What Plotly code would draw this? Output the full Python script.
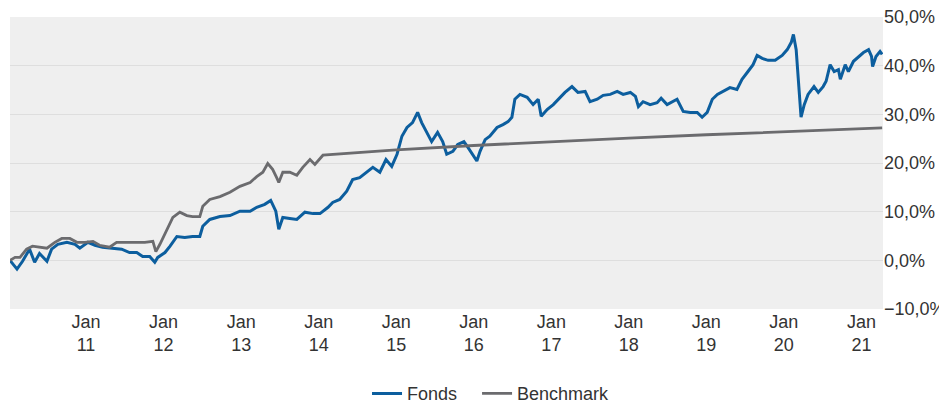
import plotly.graph_objects as go

# Fonds (cumulative performance in %)
fonds_dates = [
    "2010-01-08", "2010-02-10", "2010-03-08", "2010-04-10", "2010-05-04", "2010-05-27",
    "2010-07-01", "2010-07-23", "2010-08-21", "2010-10-03", "2010-11-10", "2010-12-03",
    "2011-01-10", "2011-02-12", "2011-03-20", "2011-05-15", "2011-06-18", "2011-07-25",
    "2011-08-28", "2011-09-25", "2011-10-28", "2011-11-21", "2011-12-05", "2012-01-08",
    "2012-02-01", "2012-03-04", "2012-04-10", "2012-05-17", "2012-06-20", "2012-07-04",
    "2012-08-06", "2012-09-23", "2012-11-09", "2012-12-26", "2013-02-12", "2013-03-15",
    "2013-04-22", "2013-05-20", "2013-06-13", "2013-06-27", "2013-07-16", "2013-08-18",
    "2013-09-20", "2013-10-28", "2013-12-05", "2014-01-07", "2014-02-14", "2014-03-08",
    "2014-04-10", "2014-05-13", "2014-06-10", "2014-07-13", "2014-08-15", "2014-09-13",
    "2014-10-16", "2014-11-14", "2014-12-11", "2015-01-05", "2015-01-28", "2015-02-21",
    "2015-03-19", "2015-04-12", "2015-05-01", "2015-05-24", "2015-06-17", "2015-07-15",
    "2015-08-08", "2015-08-27", "2015-09-25", "2015-10-18", "2015-11-16", "2015-12-05",
    "2015-12-28", "2016-01-16", "2016-01-31", "2016-02-24", "2016-03-17", "2016-04-20",
    "2016-05-18", "2016-06-11", "2016-06-29", "2016-07-13", "2016-08-06", "2016-09-09",
    "2016-10-07", "2016-10-31", "2016-11-14", "2016-12-12", "2017-01-10", "2017-02-12",
    "2017-03-06", "2017-04-08", "2017-05-06", "2017-06-09", "2017-07-02", "2017-08-05",
    "2017-09-02", "2017-10-05", "2017-11-07", "2017-12-05", "2018-01-08", "2018-02-01",
    "2018-02-15", "2018-03-09", "2018-04-11", "2018-05-14", "2018-06-02", "2018-06-30",
    "2018-07-28", "2018-08-16", "2018-09-14", "2018-10-17", "2018-11-19", "2018-12-12",
    "2019-01-05", "2019-01-29", "2019-02-22", "2019-03-20", "2019-04-22", "2019-05-25",
    "2019-06-18", "2019-07-16", "2019-08-09", "2019-08-28", "2019-09-21", "2019-10-19",
    "2019-11-21", "2019-12-24", "2020-01-17", "2020-02-05", "2020-02-15", "2020-02-28",
    "2020-03-08", "2020-03-17", "2020-03-22", "2020-04-06", "2020-04-24", "2020-05-22",
    "2020-06-11", "2020-07-04", "2020-07-18", "2020-08-06", "2020-08-25", "2020-09-14",
    "2020-09-23", "2020-10-16", "2020-10-31", "2020-11-24", "2020-12-17", "2021-01-10",
    "2021-02-03", "2021-02-17", "2021-02-22", "2021-03-10", "2021-03-29", "2021-04-08",
]
fonds_values = [
    0.0, -1.8, -0.2, 2.3, -0.4, 1.4,
    -0.2, 2.3, 3.3, 3.7, 3.3, 2.5,
    3.7, 3.1, 2.7, 2.5, 2.3, 1.6,
    1.6, 0.8, 0.8, -0.4, 0.6, 1.6,
    2.9, 4.9, 4.7, 4.9, 4.9, 7.0,
    8.4, 9.0, 9.2, 10.1, 10.1, 10.9,
    11.5, 12.3, 10.1, 6.4, 8.8, 8.6,
    8.4, 9.9, 9.6, 9.6, 10.9, 11.9,
    12.5, 14.2, 16.6, 17.0, 18.1, 19.1,
    18.1, 20.7, 19.3, 21.8, 25.5, 27.3,
    28.3, 30.4, 28.3, 26.5, 24.4, 26.3,
    24.4, 21.8, 22.4, 23.8, 24.4, 23.2,
    21.5, 20.4, 22.4, 24.8, 25.5, 27.3,
    27.9, 28.5, 29.4, 33.1, 34.1, 33.5,
    32.0, 33.1, 29.6, 31.0, 32.0, 33.5,
    34.5, 35.7, 34.5, 34.7, 32.6, 33.1,
    33.9, 34.1, 34.7, 34.1, 34.5, 33.7,
    31.6, 32.6, 32.0, 32.4, 33.3, 32.0,
    32.6, 33.1, 30.6, 30.4, 30.4, 29.4,
    30.4, 33.1, 34.1, 34.7, 35.5, 35.1,
    37.2, 38.8, 40.2, 42.1, 41.5, 41.1,
    41.1, 42.1, 43.3, 44.8, 46.4, 43.3,
    37.8, 31.6, 29.4, 32.0, 34.1, 35.7,
    34.5, 35.7, 36.8, 40.2, 38.8, 39.2,
    37.2, 40.2, 38.8, 40.9, 41.7, 42.7,
    43.3, 41.9, 39.8, 41.9, 42.9, 42.3,
]

# Benchmark (cumulative performance in %)
bench_dates = [
    "2010-01-08", "2010-02-01", "2010-02-24", "2010-03-27", "2010-04-24", "2010-05-27",
    "2010-07-01", "2010-08-07", "2010-09-09", "2010-10-17", "2010-11-19", "2010-12-27",
    "2011-02-03", "2011-03-06", "2011-04-22", "2011-05-25", "2011-07-02", "2011-08-18",
    "2011-10-05", "2011-11-12", "2011-11-26", "2011-12-15", "2012-01-17", "2012-02-14",
    "2012-03-18", "2012-04-20", "2012-05-17", "2012-06-20", "2012-07-04", "2012-08-06",
    "2012-09-23", "2012-11-09", "2012-12-26", "2013-02-12", "2013-03-15", "2013-04-13",
    "2013-05-06", "2013-05-29", "2013-06-17", "2013-06-27", "2013-07-16", "2013-08-18",
    "2013-09-20", "2013-10-18", "2013-11-21", "2013-12-14", "2014-01-21", "2015-01-01",
    "2016-01-01", "2017-01-01", "2018-01-01", "2019-01-01", "2020-01-01", "2021-01-01",
    "2021-04-08",
]
bench_values = [
    0.0, 0.6, 0.6, 2.3, 2.9, 2.7,
    2.5, 3.7, 4.5, 4.5, 3.7, 3.7,
    3.9, 3.1, 2.7, 3.7, 3.7, 3.7,
    3.7, 3.9, 1.8, 3.3, 6.4, 8.8,
    9.9, 9.2, 9.0, 9.0, 11.1, 12.5,
    13.1, 14.0, 15.2, 16.0, 17.2, 18.1,
    19.9, 18.7, 17.0, 16.0, 18.1, 18.1,
    17.5, 19.1, 20.7, 19.7, 21.6, 22.7,
    23.6, 24.4, 25.1, 25.8, 26.4, 27.0,
    27.2,
]

font_color = "#333333"

fig = go.Figure()
# a few non-breaking spaces widen the gap between the two legend entries
fig.add_trace(go.Scatter(x=fonds_dates, y=fonds_values, mode="lines", name="Fonds\u00a0\u00a0\u00a0",
                         line=dict(color="#0c5e9e", width=3)))
fig.add_trace(go.Scatter(x=bench_dates, y=bench_values, mode="lines", name="Benchmark",
                         line=dict(color="#6b6b6e", width=2.8)))

# the page body keeps its default 8px margin, so margins are shifted by 8px
fig.update_layout(
    width=947, height=403,
    margin=dict(l=2, r=72, t=9, b=102, autoexpand=False),
    paper_bgcolor="white",
    plot_bgcolor="#efefef",
    separators=",.",
    font=dict(family="Liberation Sans, Arial, sans-serif", size=18, color=font_color),
    showlegend=True,
    legend=dict(orientation="h", x=0.551, xanchor="center", y=-0.29, yanchor="middle",
                font=dict(size=18, color=font_color)),
    xaxis=dict(
        type="date", automargin=False,
        range=["2010-01-08", "2021-04-12"],
        tick0="2011-01-01", dtick="M12",
        tickformat="%b<br>%y",
        showgrid=False, zeroline=False, showline=False,
        ticks="", tickfont=dict(size=18, color=font_color),
    ),
    yaxis=dict(
        side="right", automargin=False,
        range=[-10, 50], dtick=10,
        tickformat=".1f", ticksuffix="%",
        ticklabeloverflow="allow",
        showgrid=True, gridcolor="#dedede", gridwidth=1,
        zeroline=False, showline=False,
        ticks="", tickfont=dict(size=18, color=font_color),
    ),
)

fig.write_html("out.html")
